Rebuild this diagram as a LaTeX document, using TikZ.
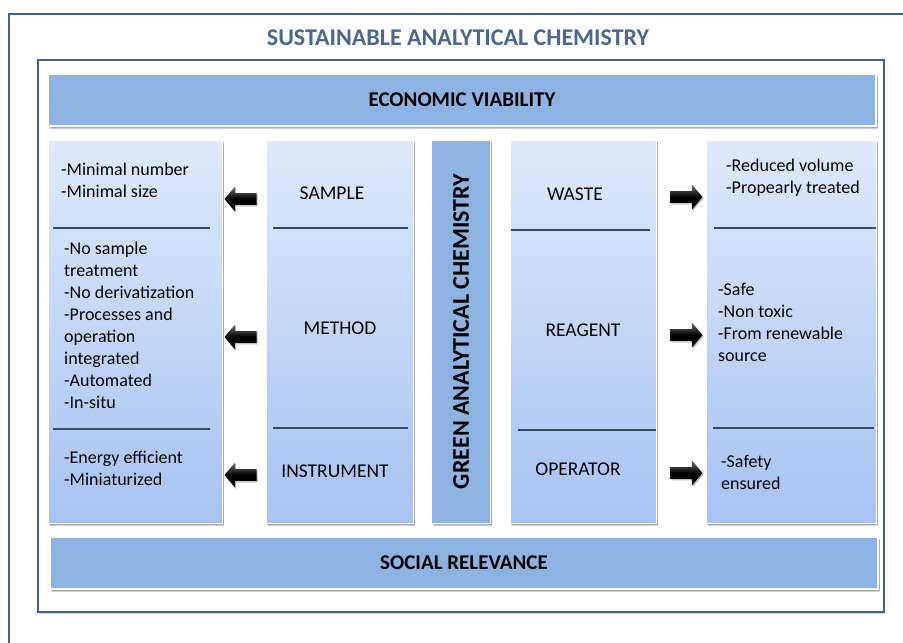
\documentclass[tikz,border=0pt]{standalone}
\usepackage{fontspec}
\setmainfont{Carlito}
\usetikzlibrary{shadows,shapes.arrows}

\definecolor{frameblue}{HTML}{41608E}
\definecolor{titleblue}{HTML}{4B6890}
\definecolor{barblue}{HTML}{8DB3E2}
\definecolor{coltop}{HTML}{DEE9FB}
\definecolor{colbot}{HTML}{A6C3F3}
\definecolor{rulegray}{HTML}{3A4A62}

\tikzset{
  softshadow/.style={drop shadow={shadow xshift=1.5pt, shadow yshift=-2pt,
      opacity=0.35, fill=black!55, top color=black!55, bottom color=black!55}},
  frame/.style={draw=frameblue, line width=1.8pt},
  colbox/.style={draw=white, line width=1pt, top color=coltop, bottom color=colbot,
      minimum height=383pt, inner sep=0pt, softshadow},
  bar/.style={draw=white, line width=2pt, fill=barblue, inner sep=0pt,
      minimum height=52pt, softshadow, font=\fontsize{21}{25}\selectfont\bfseries},
  greencol/.style={draw=white, line width=1pt, fill=barblue, inner sep=0pt,
      minimum width=59pt, minimum height=383pt, softshadow},
  label/.style={font=\fontsize{19.5}{23}\selectfont, inner sep=0pt},
  listtxt/.style={font=\fontsize{18}{22}\selectfont, align=left, inner sep=0pt, anchor=west},
  divider/.style={draw=rulegray, line width=1.2pt},
  blockarrow/.style={single arrow, draw=none, inner xsep=0pt, inner ysep=5.5pt,
      minimum height=32pt, minimum width=25pt, single arrow head extend=6.5pt,
      single arrow tip angle=100,
      top color=black!55, bottom color=black, middle color=black,
      drop shadow={shadow xshift=1pt, shadow yshift=-1.5pt, opacity=0.3,
        top color=black!50, bottom color=black!50}},
  leftarrow/.style={blockarrow, shape border rotate=180},
  rightarrow/.style={blockarrow},
}

\begin{document}
\begin{tikzpicture}[x=1pt,y=-1pt]
  \useasboundingbox (0,0) rectangle (903,643);
  \fill[white] (0,0) rectangle (903,643);
  \clip (0,0) rectangle (903,643);

  % outer frame, open to the right and bottom
  \draw[frame] (910,14) -- (9,14) -- (9,650);
  \node[font=\fontsize{24}{28}\selectfont\bfseries, text=titleblue, inner sep=0pt]
    (title) at (458,38) {SUSTAINABLE ANALYTICAL CHEMISTRY};

  % inner frame
  \draw[frame, drop shadow={shadow xshift=1pt, shadow yshift=-1.5pt, opacity=0.3}, fill=white]
    (38,60) rectangle (884,612);

  % horizontal bars
  \node[bar, minimum width=828pt] (econ) at (462,100) {ECONOMIC VIABILITY};
  \node[bar, minimum width=828pt] (social) at (464,563) {SOCIAL RELEVANCE};

  % columns
  \node[colbox, minimum width=174pt] (lcol)  at (135,331.5) {};
  \node[colbox, minimum width=147pt] (mlcol) at (339.5,331.5) {};
  \node[greencol] (gcol) at (461,331.5) {};
  \node[colbox, minimum width=146pt] (mrcol) at (583,331.5) {};
  \node[colbox, minimum width=170pt] (rcol)  at (791,331.5) {};

  \node[rotate=90, font=\fontsize{24}{28}\selectfont\bfseries, inner sep=0pt]
    (gac) at (gcol) {GREEN ANALYTICAL CHEMISTRY};

  % dividers
  \draw[divider] (53,228) -- (210,228);
  \draw[divider] (53,429) -- (210,429);
  \draw[divider] (273,228) -- (408,228);
  \draw[divider] (273,428) -- (408,428);
  \draw[divider] (511,230) -- (650,230);
  \draw[divider] (518,430) -- (656,430);
  \draw[divider] (714,228) -- (876,228);
  \draw[divider] (713,428) -- (874,428);

  % column labels
  \node[label] (sample) at (332,193) {SAMPLE};
  \node[label] (method) at (340,328) {METHOD};
  \node[label] (instr)  at (335,471) {INSTRUMENT};
  \node[label] (waste)  at (575,194) {WASTE};
  \node[label] (reag)   at (583,330) {REAGENT};
  \node[label] (oper)   at (578,469) {OPERATOR};

  % left lists
  \node[listtxt] (l1) at (61,180) {-Minimal number\\-Minimal size};
  \node[listtxt] (l2) at (64,325) {-No sample\\treatment\\-No derivatization\\-Processes and\\operation\\integrated\\-Automated\\-In-situ};
  \node[listtxt] (l3) at (64,468) {-Energy efficient\\-Miniaturized};

  % right lists
  \node[listtxt] (r1) at (726,178) {-Reduced volume\\-Propearly treated};
  \node[listtxt] (r2) at (718,322.5) {-Safe\\-Non toxic\\-From renewable\\source};
  \node[listtxt] (r3) at (721,472) {-Safety\\ensured};

  % arrows
  \node[leftarrow]  (a1) at (243,199) {};
  \node[leftarrow]  (a2) at (243,337) {};
  \node[leftarrow]  (a3) at (243,475) {};
  \node[rightarrow] (a4) at (684,197) {};
  \node[rightarrow] (a5) at (684,335) {};
  \node[rightarrow] (a6) at (684,473) {};
\end{tikzpicture}
\end{document}
